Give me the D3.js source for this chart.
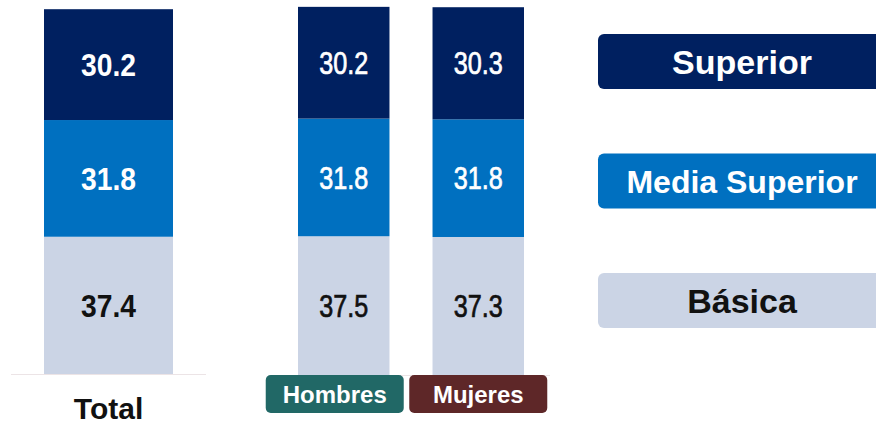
<!DOCTYPE html>
<html>
<head>
<meta charset="utf-8">
<script src="https://cdn.jsdelivr.net/npm/d3@7"></script>
<style>
  html, body { margin: 0; padding: 0; background: #fff; }
  svg { display: block; }
</style>
</head>
<body>
<svg id="chart" width="876" height="425"></svg>
<script>
// data
const series = ['Básica', 'Media Superior', 'Superior']
const totalCategories = ['Total']
const totalValues = {
  'Básica': [37.4],
  'Media Superior': [31.8],
  'Superior': [30.2]
}
const sexCategories = ['Hombres', 'Mujeres']
const sexValues = {
  'Básica': [37.5, 37.3],
  'Media Superior': [31.8, 31.8],
  'Superior': [30.2, 30.3]
}
const legendLabels = ['Superior', 'Media Superior', 'Básica']

const colors = {
  'Superior': '#002060',
  'Media Superior': '#0070c0',
  'Básica': '#cbd4e5'
}
const textColors = {
  'Superior': '#fff',
  'Media Superior': '#fff',
  'Básica': '#111'
}
const badgeColors = { 'Hombres': '#216866', 'Mujeres': '#5e2728' }

const sansFont = "'Liberation Sans', Arial, sans-serif"

const svg = d3.select('#chart')

// turn {series: [v per cat]} into rows for d3.stack
let toRows = (cats, vals) => cats.map((c, i) => {
  let row = { cat: c }
  series.forEach(s => row[s] = vals[s][i])
  return row
})

let stack = d3.stack().keys(series)

let drawGroup = (opts) => {
  let rows = toRows(opts.cats, opts.vals)
  let layers = stack(rows)

  let x = d3.scaleBand().domain(opts.cats).range(opts.xRange).paddingInner(opts.padding || 0)
  let y = d3.scaleLinear().domain([0, 100]).range(opts.yRange)

  let g = svg.append('g').attr('class', 'group ' + opts.id)

  // baseline
  g.append('line')
    .attr('x1', opts.lineRange[0]).attr('x2', opts.lineRange[1])
    .attr('y1', y(0) + 0.5).attr('y2', y(0) + 0.5)
    .style('stroke', '#ece4e6')
    .style('stroke-width', 1.2)

  let layer = g.selectAll('g.layer').data(layers)
    .enter().append('g')
      .attr('class', 'layer')

  layer.selectAll('rect').data(d => d.map(p => ({ key: d.key, p })))
    .enter().append('rect')
      .attr('x', d => x(d.p.data.cat))
      .attr('width', x.bandwidth())
      .attr('y', d => y(d.p[1]))
      .attr('height', d => y(d.p[0]) - y(d.p[1]))
      .style('fill', d => colors[d.key])

  // narrow numerals: no narrow face installed, so squeeze with textLength
  layer.selectAll('text').data(d => d.map(p => ({ key: d.key, p })))
    .enter().append('text')
      .attr('x', d => x(d.p.data.cat) + x.bandwidth() / 2)
      .attr('y', d => (y(d.p[0]) + y(d.p[1])) / 2)
      .attr('dy', '0.36em')
      .attr('text-anchor', 'middle')
      .attr('textLength', opts.labelWidth)
      .attr('lengthAdjust', 'spacingAndGlyphs')
      .style('font-family', sansFont)
      .style('font-size', opts.labelSize + 'px')
      .style('font-weight', opts.labelWeight)
      .style('fill', d => textColors[d.key])
      .style('stroke', d => textColors[d.key])
      .style('stroke-width', opts.labelStroke || 0)
      .text(d => d3.format('.1f')(d.p[1] - d.p[0]))

  return { x, y, g }
}

// Total
let total = drawGroup({
  id: 'total',
  cats: totalCategories,
  vals: totalValues,
  xRange: [44, 173],
  yRange: [374, 7],
  lineRange: [11, 206],
  labelSize: 32,
  labelWidth: 55,
  labelWeight: 'bold'
})

total.g.selectAll('text.cat').data(totalCategories)
  .enter().append('text')
    .attr('class', 'cat')
    .attr('x', d => total.x(d) + total.x.bandwidth() / 2)
    .attr('y', 419)
    .attr('text-anchor', 'middle')
    .style('font-family', sansFont)
    .style('font-size', '30px')
    .style('font-weight', 'bold')
    .style('fill', '#111')
    .text(d => d)

// Hombres / Mujeres
let sex = drawGroup({
  id: 'sex',
  cats: sexCategories,
  vals: sexValues,
  xRange: [298, 524],
  yRange: [375, 5],
  padding: 0.32,
  lineRange: [275, 550],
  labelSize: 31,
  labelWidth: 49,
  labelWeight: 'normal',
  labelStroke: 0.7
})

// badges
let badgeW = 138, badgeH = 38
let badgeShift = { 'Hombres': -9, 'Mujeres': 0 }
let badge = sex.g.selectAll('g.badge').data(sexCategories)
  .enter().append('g')
    .attr('class', 'badge')
    .attr('transform', d => `translate(${ sex.x(d) + sex.x.bandwidth() / 2 + badgeShift[d] - badgeW / 2 }, 375)`)

badge.append('rect')
  .attr('width', badgeW)
  .attr('height', badgeH)
  .attr('rx', 5)
  .style('fill', d => badgeColors[d])

badge.append('text')
  .attr('x', badgeW / 2)
  .attr('y', badgeH / 2)
  .attr('dy', '0.36em')
  .attr('text-anchor', 'middle')
  .style('font-family', sansFont)
  .style('font-size', '24px')
  .style('font-weight', 'bold')
  .style('fill', '#fff')
  .text(d => d)

// legend
let ly = d3.scalePoint().domain(legendLabels).range([34, 273])
let legendSize = { 'Superior': 34, 'Media Superior': 32, 'Básica': 34 }

let legend = svg.append('g').attr('class', 'legend')
  .selectAll('g').data(legendLabels)
  .enter().append('g')
    .attr('transform', d => `translate(598, ${ ly(d) })`)

legend.append('rect')
  .attr('width', 290)
  .attr('height', 55)
  .attr('rx', 6)
  .style('fill', d => colors[d])

legend.append('text')
  .attr('x', 144)
  .attr('y', 27.5)
  .attr('dy', '0.36em')
  .attr('text-anchor', 'middle')
  .style('font-family', sansFont)
  .style('font-size', d => legendSize[d] + 'px')
  .style('font-weight', 'bold')
  .style('fill', d => textColors[d])
  .text(d => d)
</script>
</body>
</html>
